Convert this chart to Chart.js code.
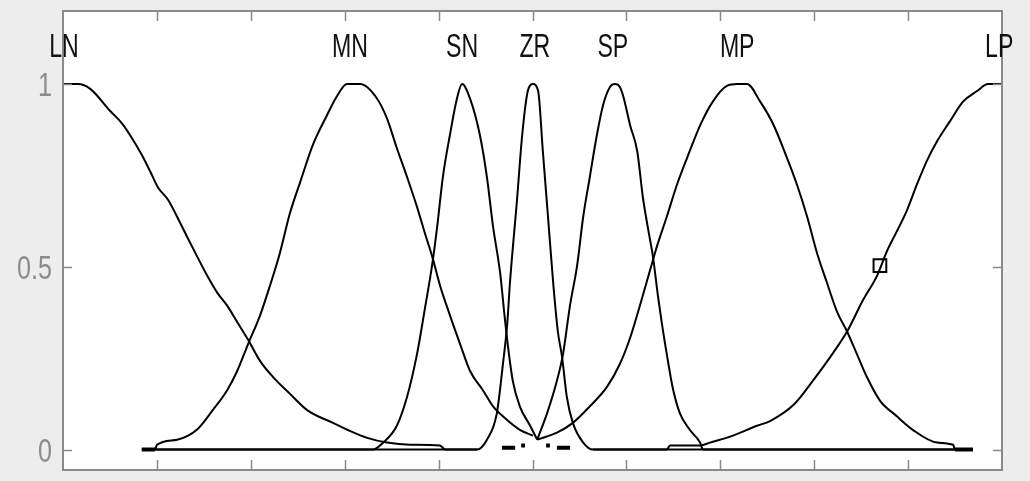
<!DOCTYPE html>
<html>
<head>
<meta charset="utf-8">
<style>
  html, body { margin: 0; padding: 0; background: #ededed; }
  #wrap { width: 1030px; height: 481px; }
</style>
<script src="https://cdn.jsdelivr.net/npm/chart.js"></script>
</head>
<body>
<div id="wrap"><canvas id="mfChart" width="1030" height="481"></canvas></div>
<script>
  // membership function names and the x where each one peaks
  const mfNames = ['LN', 'MN', 'SN', 'ZR', 'SP', 'MP', 'LP'];
  const mfPeaks = [-0.998, -0.389, -0.150, 0.005, 0.171, 0.436, 0.994];

  // tick positions (no x labels in the original)
  const xTicks = [-0.8, -0.6, -0.4, -0.2, 0, 0.2, 0.4, 0.6, 0.8];
  const yTicks = [0, 0.5, 1];
  const yTickLabels = ['0', '0.5', '1'];

  // curves
  const lnX = [-1, -0.968, -0.942, -0.9, -0.874, -0.853, -0.832, -0.815, -0.798, -0.776, -0.757, -0.736, -0.715, -0.693, -0.672, -0.651, -0.629, -0.606, -0.58, -0.553, -0.517, -0.48, -0.425, -0.389, -0.352, -0.31, -0.261, -0.197, -0.186, -0.118];
  const lnY = [1, 1, 0.987, 0.927, 0.892, 0.852, 0.806, 0.763, 0.718, 0.683, 0.637, 0.583, 0.53, 0.476, 0.43, 0.395, 0.349, 0.301, 0.242, 0.199, 0.153, 0.108, 0.073, 0.051, 0.032, 0.019, 0.013, 0.011, 0, 0];

  const mnX = [-0.832, -0.804, -0.8, -0.757, -0.715, -0.681, -0.651, -0.629, -0.606, -0.58, -0.559, -0.538, -0.517, -0.495, -0.468, -0.438, -0.416, -0.395, -0.367, -0.331, -0.31, -0.289, -0.267, -0.246, -0.229, -0.214, -0.197, -0.176, -0.154, -0.133, -0.105, -0.084, -0.054, -0.027, 0.001];
  const mnY = [0, 0, 0.013, 0.027, 0.054, 0.108, 0.161, 0.215, 0.288, 0.368, 0.449, 0.538, 0.645, 0.731, 0.833, 0.914, 0.968, 1, 1, 0.96, 0.906, 0.825, 0.745, 0.664, 0.591, 0.53, 0.449, 0.368, 0.288, 0.215, 0.161, 0.118, 0.081, 0.054, 0.038];

  const snX = [-0.832, -0.34, -0.318, -0.289, -0.267, -0.246, -0.229, -0.214, -0.203, -0.191, -0.176, -0.161, -0.15, -0.133, -0.112, -0.097, -0.084, -0.069, -0.059, -0.052, -0.042, -0.027, -0.005, 0.01];
  const snY = [0, 0, 0.019, 0.065, 0.145, 0.261, 0.387, 0.503, 0.61, 0.745, 0.86, 0.96, 1, 0.96, 0.86, 0.745, 0.61, 0.484, 0.36, 0.28, 0.188, 0.118, 0.065, 0.027];

  const zrX = [-0.832, -0.118, -0.097, -0.076, -0.063, -0.054, -0.048, -0.033, -0.022, -0.01, 0.001, 0.012, 0.022, 0.033, 0.044, 0.054, 0.063, 0.073, 0.086, 0.108, 0.129, 0.938];
  const zrY = [0, 0, 0.027, 0.099, 0.234, 0.341, 0.457, 0.683, 0.86, 0.981, 1, 0.981, 0.817, 0.637, 0.457, 0.323, 0.253, 0.145, 0.073, 0.019, 0, 0];

  const spX = [0.01, 0.031, 0.052, 0.065, 0.08, 0.095, 0.108, 0.122, 0.137, 0.15, 0.165, 0.176, 0.186, 0.193, 0.208, 0.223, 0.235, 0.246, 0.257, 0.267, 0.276, 0.286, 0.299, 0.314, 0.335, 0.357, 0.363, 0.938];
  const spY = [0.027, 0.099, 0.188, 0.261, 0.395, 0.503, 0.637, 0.745, 0.86, 0.941, 0.992, 1, 0.992, 0.968, 0.887, 0.817, 0.691, 0.605, 0.524, 0.422, 0.341, 0.261, 0.167, 0.099, 0.054, 0.019, 0, 0];

  const mpX = [0.01, 0.052, 0.086, 0.122, 0.159, 0.186, 0.208, 0.229, 0.25, 0.265, 0.286, 0.308, 0.335, 0.357, 0.384, 0.414, 0.436, 0.457, 0.485, 0.512, 0.542, 0.563, 0.585, 0.606, 0.627, 0.649, 0.67, 0.691, 0.712, 0.74, 0.776, 0.81, 0.862, 0.896, 0.9, 0.938];
  const mpY = [0.027, 0.046, 0.073, 0.118, 0.172, 0.234, 0.306, 0.395, 0.489, 0.556, 0.637, 0.726, 0.817, 0.887, 0.952, 0.995, 1, 1, 0.952, 0.892, 0.798, 0.726, 0.637, 0.538, 0.457, 0.376, 0.323, 0.261, 0.199, 0.134, 0.091, 0.054, 0.019, 0.013, 0, 0];

  const lpX = [0.129, 0.286, 0.293, 0.357, 0.378, 0.427, 0.478, 0.506, 0.559, 0.597, 0.634, 0.67, 0.704, 0.734, 0.755, 0.776, 0.798, 0.819, 0.84, 0.862, 0.889, 0.917, 0.947, 0.97, 1];
  const lpY = [0, 0, 0.011, 0.011, 0.019, 0.038, 0.065, 0.078, 0.126, 0.188, 0.253, 0.323, 0.409, 0.476, 0.543, 0.597, 0.656, 0.726, 0.79, 0.844, 0.898, 0.952, 0.981, 1, 1];

  // heavy stubs on the zero line (curve ends overlapping), null = break
  const stubX = [-0.832, -0.804, null, -0.065, -0.037, null, -0.024, -0.016, null, 0.029, 0.037, null, 0.052, 0.08, null, 0.9, 0.938];
  const stubY = [0, 0, null, 0.005, 0.005, null, 0.011, 0.011, null, 0.011, 0.011, null, 0.005, 0.005, null, 0, 0];

  // selected point handle on LP
  const markX = [0.74];
  const markY = [0.503];

  function pts(xs, ys) {
    return xs.map((x, i) => (x === null ? { x: null, y: null } : { x: x, y: ys[i] }));
  }

  const curves = [[lnX, lnY], [mnX, mnY], [snX, snY], [zrX, zrY], [spX, spY], [mpX, mpY], [lpX, lpY]];

  const datasets = curves.map((c, i) => ({
    label: mfNames[i],
    data: pts(c[0], c[1]),
    borderColor: '#000',
    borderWidth: 2,
    pointRadius: 0,
    cubicInterpolationMode: 'monotone',
    fill: false
  }));

  datasets.push({
    label: 'stubs',
    data: pts(stubX, stubY),
    borderColor: '#000',
    borderWidth: 4,
    pointRadius: 0,
    spanGaps: false,
    fill: false
  });

  datasets.push({
    label: 'sel',
    data: pts(markX, markY),
    showLine: false,
    pointStyle: 'rect',
    pointRadius: 9,
    borderColor: '#000',
    borderWidth: 2,
    backgroundColor: 'rgba(0,0,0,0)'
  });

  // frame, inward ticks and text, drawn with the chart's own scales
  const framePlugin = {
    id: 'frame',
    beforeDraw(chart) {
      const ctx = chart.ctx;
      const a = chart.chartArea;
      ctx.save();
      ctx.fillStyle = '#ededed';
      ctx.fillRect(0, 0, chart.width, chart.height);
      ctx.fillStyle = '#fff';
      ctx.fillRect(a.left, a.top, a.right - a.left, a.bottom - a.top);
      ctx.restore();
    },
    afterDraw(chart) {
      const ctx = chart.ctx;
      const a = chart.chartArea;
      const xs = chart.scales.x;
      const ys = chart.scales.y;
      ctx.save();
      ctx.strokeStyle = '#8a8a8a';
      ctx.lineWidth = 2;
      ctx.strokeRect(a.left, a.top, a.right - a.left, a.bottom - a.top);

      ctx.beginPath();
      xTicks.forEach(v => {
        const px = Math.round(xs.getPixelForValue(v)) + 0.5;
        ctx.moveTo(px, a.bottom); ctx.lineTo(px, a.bottom - 10);
        ctx.moveTo(px, a.top); ctx.lineTo(px, a.top + 10);
      });
      yTicks.forEach(v => {
        const py = Math.round(ys.getPixelForValue(v)) + 0.5;
        ctx.moveTo(a.left, py); ctx.lineTo(a.left + 9, py);
        ctx.moveTo(a.right, py); ctx.lineTo(a.right - 9, py);
      });
      ctx.lineWidth = 1.5;
      ctx.stroke();

      // y tick labels, grey and narrow
      ctx.fillStyle = '#8c8c8c';
      ctx.font = '34px "Liberation Sans", Arial, sans-serif';
      ctx.textAlign = 'right';
      ctx.textBaseline = 'alphabetic';
      yTicks.forEach((v, i) => {
        const py = ys.getPixelForValue(v);
        ctx.save();
        ctx.translate(a.left - 11, py + 12);
        ctx.scale(0.74, 1);
        ctx.fillText(yTickLabels[i], 0, 0);
        ctx.restore();
      });

      // membership function names above the peaks
      ctx.fillStyle = '#111';
      ctx.font = '33px "Liberation Sans", Arial, sans-serif';
      ctx.textAlign = 'center';
      mfNames.forEach((n, i) => {
        const px = xs.getPixelForValue(mfPeaks[i]);
        const py = ys.getPixelForValue(1.075);
        ctx.save();
        ctx.translate(px, py);
        ctx.scale(0.7, 1);
        ctx.fillText(n, 0, 0);
        ctx.restore();
      });
      ctx.restore();
    }
  };

  new Chart(document.getElementById('mfChart').getContext('2d'), {
    type: 'line',
    data: { datasets: datasets },
    options: {
      responsive: false,
      animation: false,
      layout: { padding: { left: 63, top: 10, right: 28, bottom: 3 } },
      plugins: { legend: { display: false }, tooltip: { enabled: false } },
      scales: {
        x: { type: 'linear', min: -1, max: 1, display: false },
        y: { type: 'linear', min: -0.056, max: 1.2, display: false }
      }
    },
    plugins: [framePlugin]
  });
</script>
</body>
</html>
